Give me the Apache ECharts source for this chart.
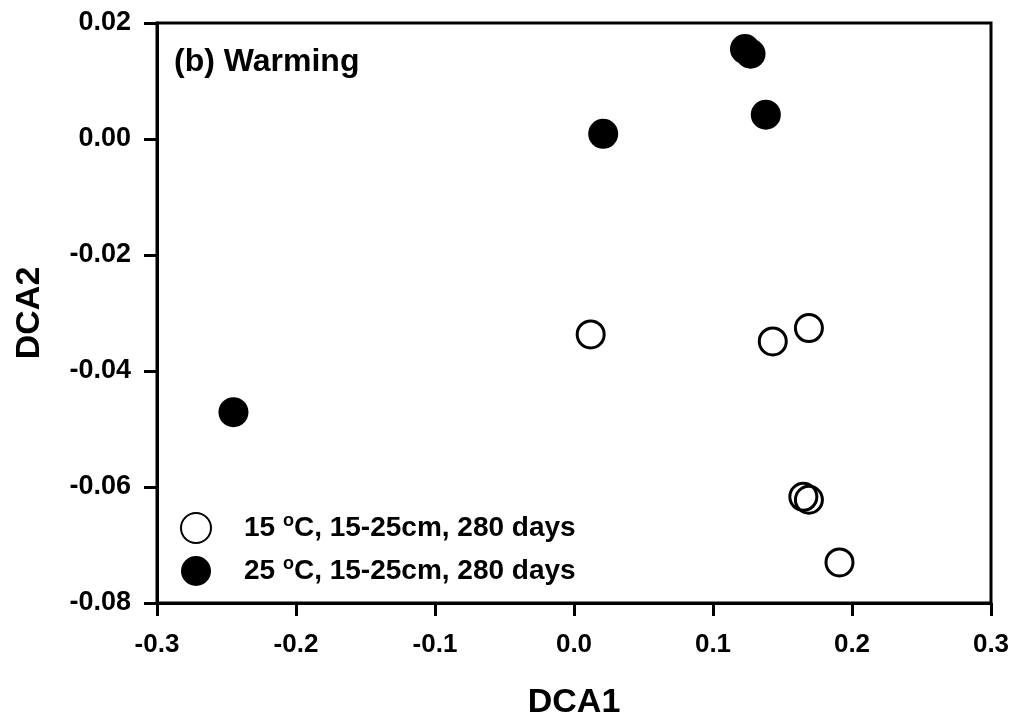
<!DOCTYPE html>
<html>
<head>
<meta charset="utf-8">
<script src="https://cdn.jsdelivr.net/npm/echarts@6/dist/echarts.min.js"></script>
<style>
html,body{margin:0;padding:0;background:#fff;}
#chart{width:1017px;height:721px;}
</style>
</head>
<body>
<div id="chart"></div>
<script>
// Data
var seriesNames = ['15 °C, 15-25cm, 280 days', '25 °C, 15-25cm, 280 days'];
var x15 = [0.012, 0.143, 0.169, 0.165, 0.169, 0.191];
var y15 = [-0.0337, -0.0349, -0.0326, -0.0617, -0.0622, -0.0730];
var x25 = [0.021, 0.123, 0.127, 0.138, -0.245];
var y25 = [0.0009, 0.0155, 0.0147, 0.0042, -0.0471];
var xTicks = [-0.3, -0.2, -0.1, 0.0, 0.1, 0.2, 0.3];
var yTicks = [-0.08, -0.06, -0.04, -0.02, 0.00, 0.02];
var titleText = '(b) Warming';
var xName = 'DCA1';
var yName = 'DCA2';

function pairs(xs, ys) { return xs.map(function (v, i) { return [v, ys[i]]; }); }

var FONT = '"Liberation Sans", Arial, Helvetica, sans-serif';
var chart = echarts.init(document.getElementById('chart'), null, {renderer: 'canvas'});
chart.setOption({
  animation: false,
  backgroundColor: '#fff',
  title: {
    text: titleText, left: 174, top: 46, padding: 0,
    textStyle: {fontFamily: FONT, fontWeight: 'bold', fontSize: 32, color: '#000'}
  },
  grid: {
    left: 157, right: 26, top: 23, bottom: 118,
    outerBoundsMode: 'none', containLabel: false,
    show: true, borderColor: '#000', borderWidth: 3, backgroundColor: 'transparent'
  },
  legend: {
    orient: 'vertical', left: 180, top: 512,
    itemWidth: 30, itemHeight: 30, itemGap: 11,
    padding: 0,
    data: seriesNames,
    formatter: function (n) { return n.replace('°', '{sup|o}'); },
    textStyle: {
      fontFamily: FONT, fontWeight: 'bold', fontSize: 28, color: '#000',
      padding: [0, 0, 0, 28],
      rich: {
        sup: {fontFamily: FONT, fontWeight: 'bold', fontSize: 18, color: '#000', padding: [0, 0, 14, 0]}
      }
    }
  },
  xAxis: {
    type: 'value', min: -0.3, max: 0.3, interval: 0.1,
    name: xName, nameLocation: 'middle', nameGap: 83,
    nameTextStyle: {fontFamily: FONT, fontWeight: 'bold', fontSize: 34, color: '#000'},
    axisLine: {show: true, onZero: false, lineStyle: {color: '#000', width: 3}},
    axisTick: {show: true, inside: false, length: 13, lineStyle: {color: '#000', width: 3}},
    axisLabel: {
      margin: 29, fontFamily: FONT, fontWeight: 'bold', fontSize: 26, color: '#000',
      formatter: function (v) { return (Math.abs(v) < 1e-9 ? 0 : v).toFixed(1); }
    },
    splitLine: {show: false}
  },
  yAxis: {
    type: 'value', min: -0.08, max: 0.02, interval: 0.02,
    name: yName, nameLocation: 'middle', nameGap: 110, nameRotate: 90,
    nameTextStyle: {fontFamily: FONT, fontWeight: 'bold', fontSize: 34, color: '#000'},
    axisLine: {show: true, onZero: false, lineStyle: {color: '#000', width: 3}},
    axisTick: {show: true, inside: false, length: 13, lineStyle: {color: '#000', width: 3}},
    axisLabel: {
      margin: 26, fontFamily: FONT, fontWeight: 'bold', fontSize: 27, color: '#000',
      formatter: function (v) { return (Math.abs(v) < 1e-9 ? 0 : v).toFixed(2); }
    },
    splitLine: {show: false}
  },
  series: [
    {
      name: seriesNames[0], type: 'scatter', symbol: 'circle', symbolSize: 27,
      data: pairs(x15, y15),
      itemStyle: {color: 'rgba(255,255,255,0)', borderColor: '#000', borderWidth: 3, opacity: 1},
      emphasis: {disabled: true}
    },
    {
      name: seriesNames[1], type: 'scatter', symbol: 'circle', symbolSize: 30,
      data: pairs(x25, y25),
      itemStyle: {color: '#000', borderWidth: 0, opacity: 1},
      emphasis: {disabled: true}
    }
  ]
});
</script>
</body>
</html>
